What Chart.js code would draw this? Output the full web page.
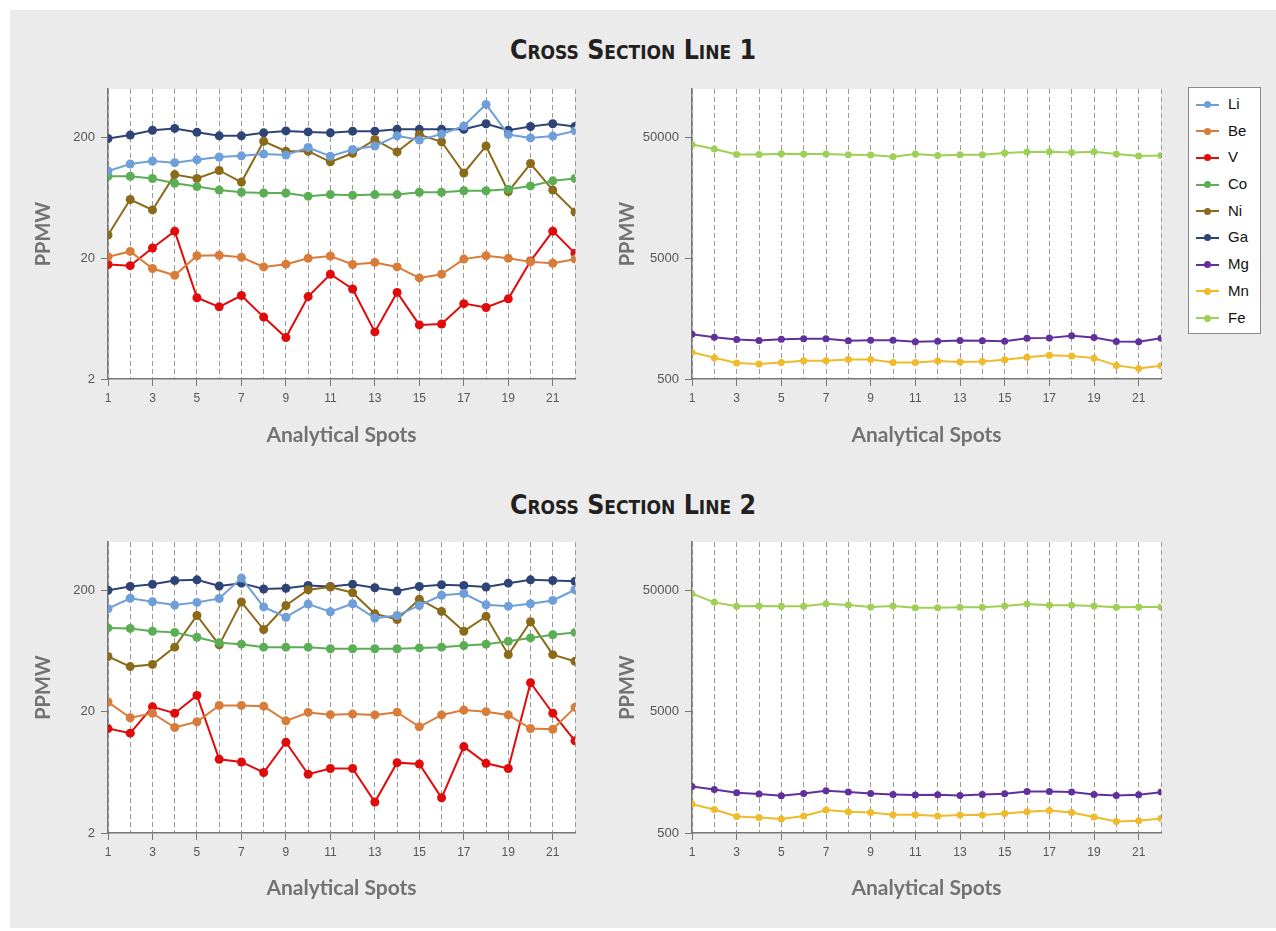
<!DOCTYPE html>
<html>
<head>
<meta charset="utf-8">
<script src="https://cdn.jsdelivr.net/npm/chart.js@4.4.1/dist/chart.umd.min.js"></script>
<style>
  body { margin:0; background:#fff; width:1276px; height:931px; overflow:hidden; position:relative; font-family:"Liberation Sans", Arial, sans-serif; }
  #panel { position:absolute; left:10px; top:10px; width:1266px; height:918px; background:#ebebeb; }
  .title { position:absolute; left:0; width:1266px; text-align:center; font-family:"Liberation Sans Narrow","DejaVu Sans Condensed",sans-serif; font-weight:bold; font-variant:small-caps; font-size:26.5px; color:#231f20; }
  canvas { position:absolute; }
  #legend { position:absolute; left:1188px; top:87px; width:73px; height:247px; background:#fff; border:1px solid #8a8a8a; padding-top:3px; box-sizing:border-box; }
  .row { position:relative; height:26.7px; }
  .row .ln { position:absolute; left:7px; top:12.5px; width:23px; height:2px; }
  .row .dot { position:absolute; left:15px; top:10px; width:7px; height:7px; border-radius:50%; }
  .row span.t { position:absolute; left:39px; top:4px; font-size:15px; color:#111; }
</style>
</head>
<body>
<div id="panel"></div>
<div class="title" style="top:34px">Cross Section Line 1</div>
<div class="title" style="top:489px">Cross Section Line 2</div>
<canvas id="c1" width="600" height="390" style="left:0;top:80px"></canvas>
<canvas id="c2" width="600" height="390" style="left:600px;top:80px"></canvas>
<canvas id="c3" width="600" height="390" style="left:0;top:533px"></canvas>
<canvas id="c4" width="600" height="390" style="left:600px;top:533px"></canvas>
<div id="legend"></div>
<script>
// analytical spots along each line
var spots = [1,2,3,4,5,6,7,8,9,10,11,12,13,14,15,16,17,18,19,20,21,22];

var names  = ["Li","Be","V","Co","Ni","Ga","Mg","Mn","Fe"];
var colors = ["#6f9fd8","#d97c3a","#e00b0b","#5cae55","#8b6a1a","#2e4476","#62309c","#efbb2b","#a0cf57"];

// Cross section line 1 (ppmw)
var li1 = [105,120,127,123,130,137,140,145,142,164,139,158,169,205,189,212,247,373,210,197,204,225];
var be1 = [20.5,22.7,16.4,14.4,20.9,21.1,20.3,16.9,17.8,19.9,20.8,17.7,18.4,16.9,13.7,14.7,19.6,20.9,19.9,18.6,18.1,19.6];
var v1  = [17.7,17.3,24.2,33.4,9.4,7.9,9.8,6.5,4.4,9.6,14.7,11.1,4.9,10.4,5.6,5.7,8.4,7.8,9.2,18.9,33.4,21.9];
var co1 = [95,95,91,83,78,73,70,69,69,65,67,66,67,67,70,70,72,72,74,79,87,91];
var ni1 = [31,61,50,98,91,106,85,185,153,153,125,147,191,151,210,183,101,169,71,121,73,48];
var ga1 = [195,208,228,236,219,205,205,217,225,221,217,224,224,232,232,232,232,258,228,245,258,245];
var mg1 = [1172,1107,1060,1040,1066,1075,1075,1034,1046,1046,1015,1026,1040,1034,1026,1086,1094,1137,1100,1020,1015,1086];
var mn1 = [833,750,677,664,685,708,708,725,725,685,683,703,690,699,722,758,787,773,744,648,612,645];
var fe1 = [43460,39850,35960,35960,36450,36200,36200,35800,35600,34450,36200,35300,35800,35800,36950,37650,37870,37400,37870,36200,34900,35300];

// Cross section line 2 (ppmw)
var li2 = [141,172,161,151,159,171,252,146,120,154,133,155,118,124,150,182,188,152,148,155,165,202];
var be2 = [24.0,17.8,19.4,14.8,16.5,22.5,22.5,22.2,16.8,19.7,18.9,19.1,18.8,19.8,15.0,18.8,20.6,20.0,18.8,14.5,14.3,21.7];
var v2  = [14.5,13.3,21.9,19.4,27.2,8.1,7.7,6.3,11.2,6.1,6.8,6.8,3.6,7.6,7.4,3.9,10.3,7.5,6.8,34.6,19.4,11.5];
var co2 = [98,97,92,90,82,74,72,68,68,68,66,66,66,66,67,68,70,72,76,81,86,90];
var ni2 = [57,47,49,68,124,71,160,95,150,202,213,191,128,115,169,134,92,122,59,110,59,52];
var ga2 = [200,215,224,241,244,217,229,205,208,219,215,224,210,197,215,222,219,213,229,244,241,237];
var mg2 = [1208,1141,1072,1046,1013,1058,1114,1086,1058,1038,1026,1032,1019,1038,1052,1099,1099,1086,1038,1019,1032,1086];
var mn2 = [865,781,684,671,652,690,773,748,738,707,707,690,703,703,725,748,767,738,677,622,631,659];
var fe2 = [46900,39760,36870,37060,36870,36870,38800,37780,36400,37060,35970,35970,36180,36180,37060,38550,37590,37590,37060,36180,36400,36400];

var traceTicks = [2,20,200];
var majorTicks = [500,5000,50000];

Chart.defaults.font.family = '"Liberation Sans", Arial, sans-serif';

// white plot area on the grey panel
var whiteArea = {
  id: 'whiteArea',
  beforeDraw: function(chart) {
    var a = chart.chartArea, c = chart.ctx;
    c.save();
    c.fillStyle = '#fff';
    c.fillRect(a.left, a.top, a.right - a.left, a.bottom - a.top);
    c.restore();
  }
};

function makeSet(idx, vals, r) {
  return {
    label: names[idx],
    data: spots.map(function(s, i) { return {x: s, y: vals[i]}; }),
    borderColor: colors[idx],
    backgroundColor: colors[idx],
    borderWidth: 2,
    pointRadius: r,
    pointBorderWidth: 0,
    pointHoverRadius: r,
    tension: 0
  };
}

function makeChart(id, sets, yMin, yMax, yTicks, yWidth, yTitlePad, rightPad, xHeight) {
  return new Chart(document.getElementById(id), {
    type: 'line',
    data: { datasets: sets },
    options: {
      responsive: false,
      animation: false,
      layout: { padding: { left: 0, top: 9, right: rightPad, bottom: 0 } },
      plugins: { legend: { display: false }, tooltip: { enabled: false } },
      scales: {
        x: {
          type: 'linear', min: 1, max: 22,
          ticks: {
            stepSize: 1, autoSkip: false, maxRotation: 0, padding: 5,
            color: '#555', font: { size: 12 },
            callback: function(v) { return v % 2 === 1 ? v : ''; }
          },
          grid: {
            color: '#9a9a9a', lineWidth: 1, tickLength: 7,
            tickColor: function(c) { return c.tick && c.tick.value % 2 === 1 ? '#777' : 'rgba(0,0,0,0)'; }
          },
          border: { color: '#777', width: 1.5, dash: [5, 3] },
          title: {
            display: true, text: 'Analytical Spots', color: '#727272',
            font: { family: 'Lato', size: 21, weight: 'bold' },
            padding: { top: 0, bottom: 22 }
          },
          afterFit: function(s) { s.height = xHeight; }
        },
        y: {
          type: 'logarithmic', min: yMin, max: yMax,
          afterBuildTicks: function(s) { s.ticks = yTicks.map(function(v) { return {value: v}; }); },
          ticks: { padding: 6, color: '#555', font: { size: 13 }, callback: function(v) { return String(v); } },
          grid: { drawOnChartArea: false, tickLength: 7, tickColor: '#777' },
          border: { color: '#777', width: 1.5 },
          title: {
            display: true, text: 'PPMW', color: '#727272',
            font: { family: 'Lato', size: 20, weight: 'bold' },
            padding: { top: yTitlePad, bottom: 0 }
          },
          afterFit: function(s) { s.width = yWidth; s.paddingTop = 0; s.paddingBottom = 0; }
        }
      }
    },
    plugins: [whiteArea]
  });
}

makeChart('c1', [makeSet(0, li1, 4.5), makeSet(1, be1, 4.5), makeSet(2, v1, 4.5), makeSet(3, co1, 4.5), makeSet(4, ni1, 4.5), makeSet(5, ga1, 4.5)],
  2, 500, traceTicks, 108, 32, 25, 91);
makeChart('c2', [makeSet(6, mg1, 3.5), makeSet(7, mn1, 3.5), makeSet(8, fe1, 3.5)],
  500, 125000, majorTicks, 92, 16, 39, 91);
makeChart('c3', [makeSet(0, li2, 4.5), makeSet(1, be2, 4.5), makeSet(2, v2, 4.5), makeSet(3, co2, 4.5), makeSet(4, ni2, 4.5), makeSet(5, ga2, 4.5)],
  2, 500, traceTicks, 108, 32, 25, 90);
makeChart('c4', [makeSet(6, mg2, 3.5), makeSet(7, mn2, 3.5), makeSet(8, fe2, 3.5)],
  500, 125000, majorTicks, 92, 16, 39, 90);

// legend box for all elements
var lg = document.getElementById('legend');
names.forEach(function(n, i) {
  var row = document.createElement('div');
  row.className = 'row';
  row.innerHTML = '<div class="ln" style="background:' + colors[i] + '"></div>' +
    '<div class="dot" style="background:' + colors[i] + '"></div>' +
    '<span class="t">' + n + '</span>';
  lg.appendChild(row);
});
</script>
</body>
</html>
